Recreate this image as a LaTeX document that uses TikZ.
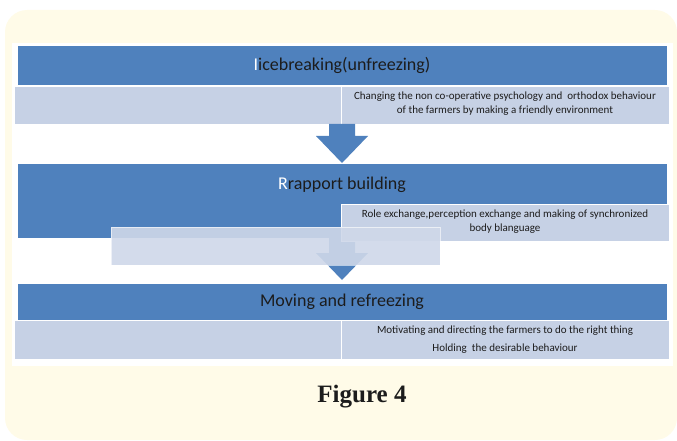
\documentclass[tikz,border=0pt]{standalone}
\usepackage{fontspec}
\setmainfont{Carlito}
\newfontfamily\captionfont{Liberation Serif}
\usetikzlibrary{calc}

\definecolor{panel}{HTML}{FFFBE8}
\definecolor{barblue}{HTML}{4F81BD}
\definecolor{celllight}{HTML}{C6D1E5}
\definecolor{cellpale}{HTML}{CFD8E9}
\definecolor{ink}{HTML}{1C1C1C}

\tikzset{
  box/.style={rectangle, anchor=north west, inner sep=0pt, outer sep=0pt},
  bar/.style={box, fill=barblue, draw=white, line width=0.6pt},
  cell/.style={box, fill=celllight, draw=white, line width=0.8pt},
  floatcell/.style={box, fill=cellpale, fill opacity=0.9, draw=white, draw opacity=0.6, line width=0.8pt},
  bartext/.style={text=ink, font=\fontsize{18}{21}\selectfont, inner sep=0pt},
  celltext/.style={text=ink, font=\fontsize{11}{14}\selectfont, align=center, inner sep=0pt},
  blockarrow/.style={fill=barblue},
}

% downward block arrow: start, tip, shaft length
\newcommand\flowarrow[3]{%
  \fill[blockarrow] ($(#1)+(-13,0)$) -- ($(#1)+(13,0)$) -- ($(#1)+(13,#3)$)
    -- ($(#1)+(26,#3)$) -- (#2) -- ($(#1)+(-26,#3)$) -- ($(#1)+(-13,#3)$) -- cycle;}

\begin{document}
\begin{tikzpicture}[x=1pt, y=-1pt]
  \useasboundingbox (0,0) rectangle (677,441);

  % background panel and white plate
  \fill[panel, rounded corners=22pt] (5,10) rectangle (677,440);
  \fill[white] (12,43) rectangle (673,366);

  % stage 1
  \node[bar, minimum width=650pt, minimum height=40pt] (bar1) at (17,45) {};
  \node[cell, minimum width=327pt, minimum height=38pt] (row1l) at (14,86) {};
  \node[cell, minimum width=328pt, minimum height=38pt] (row1r) at (341,86) {};

  % stage 2
  \node[bar, minimum width=650pt, minimum height=75pt] (bar2) at (17,163) {};
  \coordinate (a1) at (bar1.south |- row1l.south);
  \flowarrow{a1}{bar2.north}{12}

  % stage 3
  \node[bar, minimum width=650pt, minimum height=37pt] (bar3) at (17,283) {};
  \coordinate (a2) at (bar2.south);
  \coordinate (a2tip) at ($(bar3.north)+(0,-3)$);
  \flowarrow{a2}{a2tip}{15}

  \node[cell, minimum width=328pt, minimum height=37pt] (row2r) at (341,204) {};
  \node[floatcell, minimum width=329pt, minimum height=38pt] (row2l) at (111,227) {};

  \node[cell, minimum width=327pt, minimum height=39pt] (row3l) at (14,320) {};
  \node[cell, minimum width=328pt, minimum height=39pt] (row3r) at (341,320) {};

  % labels
  \node[bartext] (t1) at (342,65) {{\color{white}I}icebreaking(unfreezing)};
  \node[bartext] (t2) at (342,185) {{\color{white}R}rapport building};
  \node[bartext] (t3) at (342,302) {Moving and refreezing};

  \node[celltext] (d1) at (505,104) {Changing the non co-operative psychology and\ \ orthodox behaviour\\of the farmers by making a friendly environment};
  \node[celltext] (d2) at (505,222) {Role exchange,perception exchange and making of synchronized\\body blanguage};
  \node[celltext, font=\fontsize{11}{18}\selectfont] (d3) at (505,340) {Motivating and directing the farmers to do the right thing\\Holding\ \ the desirable behaviour};

  \node[font=\captionfont\bfseries\fontsize{25}{29}\selectfont, text=ink, inner sep=0pt] (cap) at (362,397) {Figure 4};
\end{tikzpicture}
\end{document}
